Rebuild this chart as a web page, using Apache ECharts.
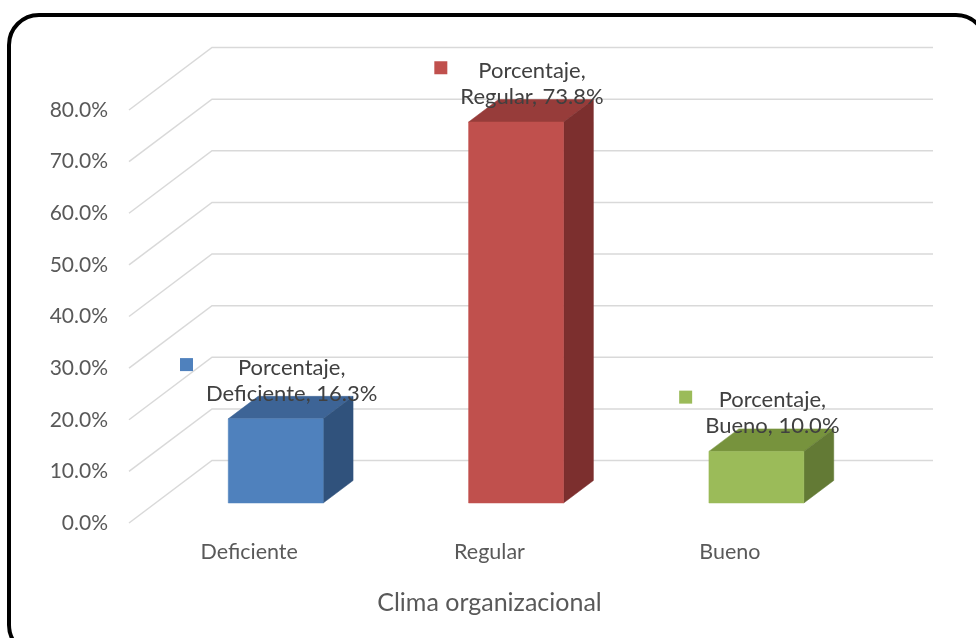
<!DOCTYPE html>
<html>
<head>
<meta charset="utf-8">
<script src="https://cdn.jsdelivr.net/npm/echarts@6/dist/echarts.min.js"></script>
<style>
  html, body { margin: 0; padding: 0; background: #fff; }
  #main { width: 976px; height: 638px; }
</style>
</head>
<body>
<div id="main"></div>
<script>
// datos del gráfico
const categories = ['Deficiente', 'Regular', 'Bueno'];
const values = [16.3, 73.8, 10.0];
const seriesName = 'Porcentaje';
const yTicks = [0, 10, 20, 30, 40, 50, 60, 70, 80];

const FONT = 'Lato, "Liberation Sans", sans-serif';
// frente, tapa y lateral de cada barra
const faceColors = [
  ['#4f81bd', '#3d6496', '#30527c'],
  ['#c0504d', '#973c3a', '#7c2f2e'],
  ['#9bbb59', '#77933d', '#637a35']
];

// desplazamiento de la profundidad (efecto 3D)
const DEPTH_X = 83, DEPTH_Y = -62.5;

// medir texto para ubicar el cuadrito de la etiqueta
const measureCtx = document.createElement('canvas').getContext('2d');
const textWidth = (txt, size) => {
  measureCtx.font = size + 'px ' + FONT;
  return measureCtx.measureText(txt).width;
};

const pct = (v) => v.toFixed(1) + '%';

function renderGrid(params, api) {
  const cs = params.coordSys;
  const y = api.coord([0, api.value(1)])[1];
  return {
    type: 'polyline',
    silent: true,
    shape: {
      points: [
        [cs.x, y],
        [cs.x + DEPTH_X, y + DEPTH_Y],
        [cs.x + cs.width + DEPTH_X, y + DEPTH_Y]
      ]
    },
    style: { stroke: '#d9d9d9', lineWidth: 1.5, fill: null }
  };
}

function renderBar(params, api) {
  const i = api.value(0), v = api.value(1);
  const base = api.coord([i, 0]);
  const top = api.coord([i, v]);
  const w = api.size([1, 0])[0] * 0.395;
  const ox = DEPTH_X * 0.32, oy = DEPTH_Y * 0.32;
  const dx = DEPTH_X * 0.36, dy = DEPTH_Y * 0.36;
  const l = base[0] + ox - w / 2, r = l + w;
  const b = base[1] + oy, t = top[1] + oy;
  const c = faceColors[i];

  const line1 = seriesName + ',';
  const line2 = categories[i] + ', ' + pct(v);
  const fs = 22;
  const blockW = Math.max(textWidth(line1, fs), textWidth(line2, fs));
  const lx = (l + r) / 2 + dx / 2 + 1;
  const ly = t + dy / 2 - 1;

  return {
    type: 'group',
    children: [
      {
        type: 'polygon',
        shape: { points: [[l, t], [r, t], [r + dx, t + dy], [l + dx, t + dy]] },
        style: { fill: c[1], stroke: c[1], lineWidth: 0.5 }
      },
      {
        type: 'polygon',
        shape: { points: [[r, t], [r + dx, t + dy], [r + dx, b + dy], [r, b]] },
        style: { fill: c[2], stroke: c[2], lineWidth: 0.5 }
      },
      {
        type: 'rect',
        shape: { x: l, y: t, width: w, height: b - t },
        style: { fill: c[0], stroke: c[0], lineWidth: 0.5 }
      },
      {
        type: 'text',
        x: lx,
        y: ly,
        style: {
          text: line1 + '\n' + line2,
          fontFamily: FONT,
          fontSize: fs,
          lineHeight: 26,
          fill: '#404040',
          align: 'center',
          verticalAlign: 'bottom'
        }
      },
      {
        type: 'rect',
        shape: { x: lx - blockW / 2 - 26, y: ly - 39 - 3 - 6.5, width: 13, height: 13 },
        style: { fill: c[0] }
      }
    ]
  };
}

const chart = echarts.init(document.getElementById('main'));
chart.setOption({
  animation: false,
  backgroundColor: '#fff',
  graphic: [
    {
      type: 'rect',
      z: 100,
      shape: { x: 9, y: 15, width: 977, height: 640, r: 30 },
      style: { fill: null, stroke: '#000', lineWidth: 4 }
    }
  ],
  grid: { left: 129, right: 126, top: 110, bottom: 115 },
  xAxis: {
    type: 'category',
    data: categories,
    axisLine: { show: false },
    axisTick: { show: false },
    axisLabel: { color: '#595959', fontFamily: FONT, fontSize: 21.5, margin: 18 },
    name: 'Clima organizacional',
    nameLocation: 'middle',
    nameGap: 67,
    nameTextStyle: { color: '#595959', fontFamily: FONT, fontSize: 25 }
  },
  yAxis: {
    type: 'value',
    min: 0,
    max: 80,
    interval: 10,
    axisLine: { show: false },
    axisTick: { show: false },
    splitLine: { show: false },
    axisLabel: { color: '#595959', fontFamily: FONT, fontSize: 21, margin: 21, formatter: pct }
  },
  series: [
    {
      type: 'custom',
      clip: false,
      z: 1,
      renderItem: renderGrid,
      data: yTicks.map((v) => [0, v]),
      encode: { x: 0, y: 1 }
    },
    {
      type: 'custom',
      name: seriesName,
      clip: false,
      z: 2,
      renderItem: renderBar,
      data: values.map((v, i) => [i, v]),
      encode: { x: 0, y: 1 }
    }
  ]
});
</script>
</body>
</html>
